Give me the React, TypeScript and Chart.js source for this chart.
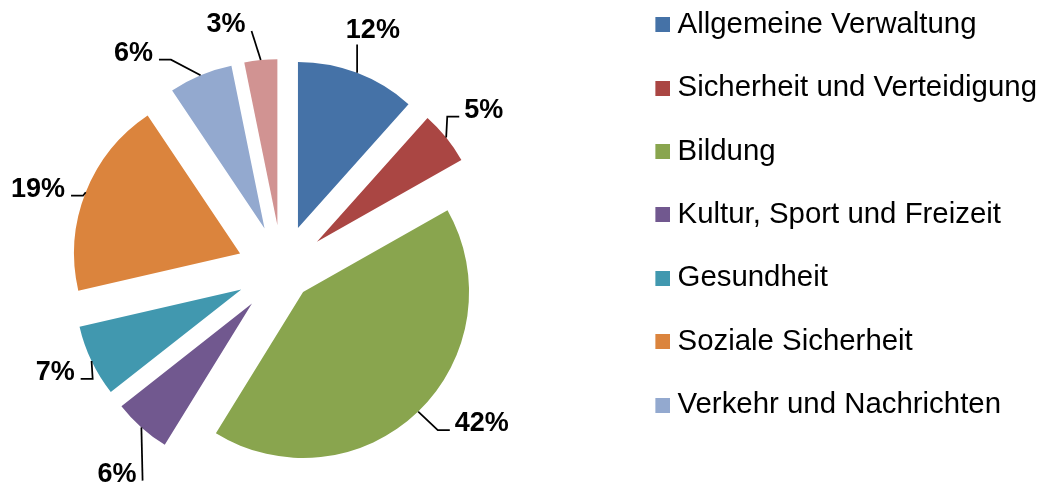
import { useEffect, useRef } from "react";
import { Chart, registerables } from "chart.js";

Chart.register(...registerables);

const categories = [
  "Allgemeine Verwaltung",
  "Sicherheit und Verteidigung",
  "Bildung",
  "Kultur, Sport und Freizeit",
  "Gesundheit",
  "Soziale Sicherheit",
  "Verkehr und Nachrichten",
  "Sonstiges",
];
// shares in percent (labels show them rounded)
const shares = [11.6, 5.2, 42.0, 5.6, 7.0, 19.2, 6.2, 3.2];
const sliceColors = [
  "#4572A7",
  "#AA4643",
  "#89A54E",
  "#71588F",
  "#4198AF",
  "#DB843D",
  "#93A9CF",
  "#D19392",
];
const legendCount = 7;

// style / layout configuration (not data)
const explodeDist = [45, 45, 30.5, 45, 45, 45, 45, 45];
const labelNudge = [
  [-1, -1],
  [1, 0],
  [31, -24],
  [7, 9.5],
  [6, -11],
  [-4, 12],
  [-49, 19],
  [-30, 9],
];
const FONT = '"Liberation Sans", Arial, sans-serif';

function makeSwatch(color: string) {
  // 30x15 image, square on its right half, so the square sits close to the text
  const c = document.createElement("canvas");
  c.width = 30;
  c.height = 15;
  const g = c.getContext("2d")!;
  g.fillStyle = color;
  g.fillRect(15, 0, 15, 15);
  return c;
}

const explodePlugin = {
  id: "explodeSlices",
  beforeDatasetsDraw(chart: any) {
    const meta = chart.getDatasetMeta(0);
    const ca = chart.chartArea;
    const cx = (ca.left + ca.right) / 2;
    const cy = (ca.top + ca.bottom) / 2;
    meta.data.forEach((arc: any, i: number) => {
      const mid = (arc.startAngle + arc.endAngle) / 2;
      const d = explodeDist[i] || 0;
      arc.x = cx + d * Math.cos(mid);
      arc.y = cy + d * Math.sin(mid);
    });
  },
};

const labelPlugin = {
  id: "pctLabels",
  afterDatasetsDraw(chart: any) {
    const ctx = chart.ctx;
    const meta = chart.getDatasetMeta(0);
    const size = 27;
    ctx.save();
    ctx.font = `bold ${size}px ${FONT}`;
    ctx.fillStyle = "#000";
    ctx.strokeStyle = "#000";
    ctx.lineWidth = 1.75;
    ctx.textAlign = "center";
    ctx.textBaseline = "alphabetic";
    meta.data.forEach((arc: any, i: number) => {
      const mid = (arc.startAngle + arc.endAngle) / 2;
      const R = arc.outerRadius;
      const ax = arc.x + R * Math.cos(mid);
      const ay = arc.y + R * Math.sin(mid);
      const nd = labelNudge[i] || [0, 0];
      const lx = arc.x + (R + 47) * Math.cos(mid) + nd[0];
      const ly = arc.y + (R + 47) * Math.sin(mid) + nd[1];
      const text = Math.round(shares[i]) + "%";
      const w = ctx.measureText(text).width;
      const capH = size * 0.716;
      const base = ly + capH / 2;
      const left = lx - w / 2;
      const right = lx + w / 2;
      ctx.beginPath();
      if (ax >= left && ax <= right && ly < ay) {
        ctx.moveTo(ax, ay);
        ctx.lineTo(ax, base + 7);
      } else {
        const onLeft = lx < ax;
        const ex = onLeft ? right + 6 : left - 5;
        const ey = base - 1;
        ctx.moveTo(ax, ay);
        if (Math.abs(ax - ex) >= 10) {
          const elbowX = ex + (onLeft ? 12 : -12);
          ctx.lineTo(elbowX, ey);
        }
        ctx.lineTo(ex, ey);
      }
      ctx.stroke();
      ctx.fillText(text, lx, base);
    });
    ctx.restore();
  },
};

export default function App() {
  const ref = useRef<HTMLCanvasElement | null>(null);
  useEffect(() => {
    if (!ref.current) return;
    const swatches = sliceColors.map(makeSwatch);
    const chart = new Chart(ref.current, {
      type: "pie",
      data: {
        labels: categories,
        datasets: [
          {
            data: shares,
            backgroundColor: sliceColors,
            borderWidth: 0,
            radius: 166,
          } as any,
        ],
      },
      options: {
        responsive: false,
        animation: false,
        layout: { padding: 0 },
        plugins: {
          legend: {
            position: "right",
            align: "start",
            labels: {
              boxWidth: 15,
              boxHeight: 15,
              usePointStyle: true,
              padding: 34,
              color: "#000",
              font: { size: 29.4, family: FONT },
              generateLabels: (c: any) =>
                (c.data.labels as string[]).map((t, i) => ({
                  text: t,
                  fillStyle: sliceColors[i],
                  strokeStyle: sliceColors[i],
                  fontColor: "#000",
                  lineWidth: 0,
                  pointStyle: swatches[i],
                  hidden: false,
                  index: i,
                })),
              filter: (item: any) => item.index < legendCount,
            },
          },
          tooltip: { enabled: false },
        },
      } as any,
      plugins: [explodePlugin, labelPlugin],
    });
    return () => chart.destroy();
  }, []);
  return (
    <div
      style={{
        position: "fixed",
        left: 0,
        top: 0,
        width: 1044,
        height: 484,
        overflow: "hidden",
        background: "#fff",
      }}
    >
      <canvas
        ref={ref}
        width={1097}
        height={588}
        style={{ position: "absolute", left: -50, top: -24, width: 1097, height: 588 }}
      />
    </div>
  );
}
